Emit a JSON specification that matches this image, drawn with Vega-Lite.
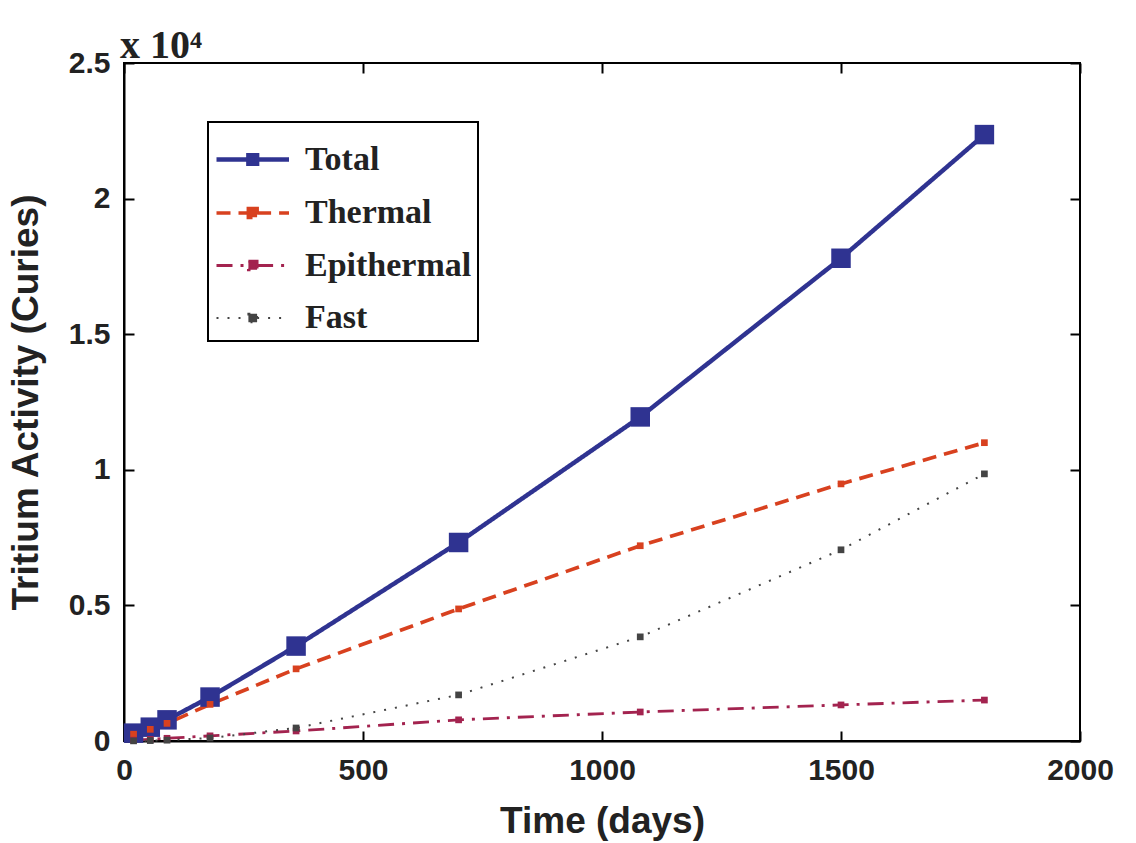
{
  "$schema": "https://vega.github.io/schema/vega-lite/v6.json",
  "width": 956,
  "height": 678,
  "autosize": {"type": "none"},
  "padding": {"left": 124, "top": 63, "right": 56, "bottom": 102},
  "background": "white",
  "config": {
    "view": {"stroke": "#000", "strokeWidth": 2},
    "legend": {"strokeWidth": 2},
    "axis": {
      "grid": false,
      "domainColor": "#000",
      "domainWidth": 2,
      "tickColor": "#000",
      "tickWidth": 2,
      "tickSize": -10,
      "labelFont": "Liberation Sans",
      "labelFontWeight": "bold",
      "labelFontSize": 30,
      "labelColor": "#222",
      "labelFlush": false,
      "titleFont": "Liberation Sans",
      "titleFontWeight": "bold",
      "titleFontSize": 37,
      "titleColor": "#222"
    }
  },
  "title": {
    "text": "x 10⁴",
    "anchor": "start",
    "frame": "group",
    "font": "Liberation Serif",
    "fontWeight": "bold",
    "fontSize": 40,
    "color": "#222",
    "dx": -4,
    "offset": -18
  },
  "data": {
    "values": [
      {"day": 20, "series": "Total", "activity": 290},
      {"day": 55, "series": "Total", "activity": 510},
      {"day": 90, "series": "Total", "activity": 780},
      {"day": 180, "series": "Total", "activity": 1620},
      {"day": 360, "series": "Total", "activity": 3500},
      {"day": 700, "series": "Total", "activity": 7320},
      {"day": 1080, "series": "Total", "activity": 11950},
      {"day": 1500, "series": "Total", "activity": 17800},
      {"day": 1800, "series": "Total", "activity": 22360},
      {"day": 20, "series": "Thermal", "activity": 250},
      {"day": 55, "series": "Thermal", "activity": 430},
      {"day": 90, "series": "Thermal", "activity": 650},
      {"day": 180, "series": "Thermal", "activity": 1350},
      {"day": 360, "series": "Thermal", "activity": 2660},
      {"day": 700, "series": "Thermal", "activity": 4870},
      {"day": 1080, "series": "Thermal", "activity": 7200},
      {"day": 1500, "series": "Thermal", "activity": 9480},
      {"day": 1800, "series": "Thermal", "activity": 11000},
      {"day": 20, "series": "Epithermal", "activity": 30},
      {"day": 55, "series": "Epithermal", "activity": 60},
      {"day": 90, "series": "Epithermal", "activity": 100},
      {"day": 180, "series": "Epithermal", "activity": 190},
      {"day": 360, "series": "Epithermal", "activity": 370},
      {"day": 700, "series": "Epithermal", "activity": 780},
      {"day": 1080, "series": "Epithermal", "activity": 1070},
      {"day": 1500, "series": "Epithermal", "activity": 1330},
      {"day": 1800, "series": "Epithermal", "activity": 1510},
      {"day": 20, "series": "Fast", "activity": 5},
      {"day": 55, "series": "Fast", "activity": 15},
      {"day": 90, "series": "Fast", "activity": 30},
      {"day": 180, "series": "Fast", "activity": 110},
      {"day": 360, "series": "Fast", "activity": 480},
      {"day": 700, "series": "Fast", "activity": 1700},
      {"day": 1080, "series": "Fast", "activity": 3840},
      {"day": 1500, "series": "Fast", "activity": 7050},
      {"day": 1800, "series": "Fast", "activity": 9850}
    ]
  },
  "layer": [
    {
      "mark": {"type": "line"},
      "encoding": {
        "x": {
          "field": "day", "type": "quantitative",
          "scale": {"domain": [0, 2000], "nice": false},
          "axis": {"title": "Time (days)", "values": [0, 500, 1000, 1500, 2000], "format": "d", "labelPadding": 24, "titlePadding": 18}
        },
        "y": {
          "field": "activity", "type": "quantitative",
          "scale": {"domain": [0, 25000], "nice": false},
          "axis": {"title": "Tritium Activity (Curies)", "values": [0, 5000, 10000, 15000, 20000, 25000], "labelExpr": "datum.value / 10000", "labelPadding": 24, "titlePadding": 23}
        },
        "color": {
          "field": "series", "type": "nominal", "title": null,
          "scale": {"domain": ["Total", "Thermal", "Epithermal", "Fast"], "range": ["#2f3391", "#d8411f", "#a3234f", "#444444"]},
          "legend": {
            "orient": "none", "legendX": 84, "legendY": 59,
            "symbolType": "M-1,0H0.1M0.4,0H1.5M0.1,-0.15H0.4V0.15H0.1Z", "symbolSize": 3364,
            "labelFont": "Liberation Serif", "labelFontWeight": "bold", "labelFontSize": 34, "labelColor": "#222",
            "labelLimit": 400,
            "strokeColor": "#000", "fillColor": "white", "padding": 6,
            "rowPadding": 5, "labelOffset": 28
          }
        },
        "strokeDash": {
          "field": "series", "type": "nominal", "title": null,
          "scale": {"domain": ["Total", "Thermal", "Epithermal", "Fast"], "range": [[1, 0], [14, 8], [16, 8, 3, 8], [2, 9]]}
        },
        "strokeWidth": {
          "field": "series", "type": "nominal", "title": null,
          "scale": {"domain": ["Total", "Thermal", "Epithermal", "Fast"], "range": [4.5, 2, 2, 2]}
        }
      }
    },
    {
      "mark": {"type": "point", "shape": "square", "filled": true, "opacity": 1},
      "encoding": {
        "x": {"field": "day", "type": "quantitative", "axis": null},
        "y": {"field": "activity", "type": "quantitative", "axis": null},
        "color": {"field": "series", "type": "nominal", "legend": null},
        "size": {"condition": {"test": "datum.series === 'Total'", "value": 380}, "value": 45}
      }
    },
    {
      "mark": {"type": "point", "opacity": 0},
      "encoding": {
        "x": {"field": "day", "type": "quantitative", "axis": {"orient": "top", "labels": false, "title": null, "domain": false, "values": [0, 500, 1000, 1500, 2000]}},
        "y": {"field": "activity", "type": "quantitative", "axis": {"orient": "right", "labels": false, "title": null, "domain": false, "values": [0, 5000, 10000, 15000, 20000, 25000]}}
      }
    }
  ],
  "resolve": {"axis": {"x": "independent", "y": "independent"}}
}
